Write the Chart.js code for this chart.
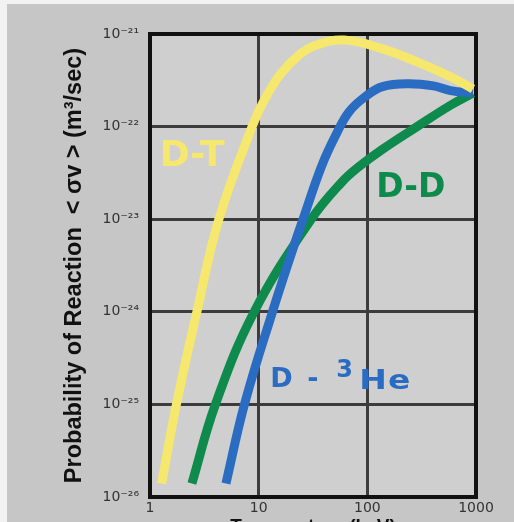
<!DOCTYPE html>
<html>
<head>
<meta charset="utf-8">
<script src="https://cdn.jsdelivr.net/npm/chart.js@4.4.1/dist/chart.umd.min.js"></script>
<style>
  html, body { margin: 0; padding: 0; background: #f2f2f2; }
  canvas { display: block; }
</style>
</head>
<body>
<canvas id="chart" width="514" height="522"></canvas>
<script>
// temperature (keV) and reaction rate <sigma v> (m3/s)
const dtTemp = [1.28, 1.75, 2.7, 4.3, 8.7, 11.3, 15.9, 23, 33, 61, 138, 287, 583, 937];
const dtRate = [1.4e-26, 1e-25, 1e-24, 1e-23, 1e-22, 1.95e-22, 3.7e-22, 5.8e-22, 7.5e-22, 8.6e-22, 6.9e-22, 5.0e-22, 3.45e-22, 2.55e-22];

const ddTemp = [2.43, 4.0, 9.1, 30.5, 58, 84, 138, 287, 583, 937];
const ddRate = [1.4e-26, 1e-25, 1e-24, 1e-23, 2.5e-23, 3.7e-23, 5.7e-23, 1.0e-22, 1.7e-22, 2.3e-22];

const dheTemp = [5.0, 7.4, 13.4, 21.5, 25.6, 37.8, 51, 68, 98, 138, 236, 405, 583, 937];
const dheRate = [1.4e-26, 1e-25, 1e-24, 5.5e-24, 1e-23, 3.7e-23, 8e-23, 1.45e-22, 2.15e-22, 2.7e-22, 2.9e-22, 2.75e-22, 2.45e-22, 2.3e-22];

const xTicks = [1, 10, 100, 1000];
const xTickLabels = ['1', '10', '100', '1000'];
const yTicks = [1e-26, 1e-25, 1e-24, 1e-23, 1e-22, 1e-21];
const yTickLabels = ['10⁻²⁶', '10⁻²⁵', '10⁻²⁴', '10⁻²³', '10⁻²²', '10⁻²¹'];

const toPoints = (xs, ys) => xs.map((x, i) => ({ x: x, y: ys[i] }));

const backdrop = {
  id: 'backdrop',
  beforeDraw(chart) {
    const { ctx, chartArea: a } = chart;
    ctx.save();
    ctx.fillStyle = '#c6c6c6';
    ctx.fillRect(7, 4, chart.width - 7, chart.height - 4);
    ctx.fillStyle = '#cfcfcf';
    ctx.fillRect(a.left, a.top, a.right - a.left, a.bottom - a.top);
    ctx.restore();
  },
  beforeDatasetsDraw(chart) {
    const { ctx, chartArea: a } = chart;
    ctx.save();
    ctx.strokeStyle = '#111111';
    ctx.lineWidth = 4;
    ctx.strokeRect(a.left, a.top, a.right - a.left, a.bottom - a.top);
    ctx.restore();
  },
  afterDatasetsDraw(chart) {
    const { ctx } = chart;
    const xs = chart.scales.x;
    const ys = chart.scales.y;
    ctx.save();
    ctx.textBaseline = 'alphabetic';
    ctx.textAlign = 'left';

    // D-T
    ctx.fillStyle = '#f6e86c';
    ctx.font = 'bold 36px "DejaVu Sans"';
    ctx.fillText('D-T', xs.getPixelForValue(1.23), ys.getPixelForValue(3.8e-23));

    // D-D
    ctx.fillStyle = '#0d8a4c';
    ctx.font = 'bold 33px "DejaVu Sans"';
    ctx.fillText('D-D', xs.getPixelForValue(121), ys.getPixelForValue(1.75e-23));

    // D - 3He
    const hx = xs.getPixelForValue(12.8);
    const hy = ys.getPixelForValue(1.55e-25);
    ctx.fillStyle = '#2a6cc2';
    ctx.font = 'bold 27px "DejaVu Sans"';
    ctx.fillText('D', hx, hy);
    ctx.fillText('-', hx + 37, hy);
    ctx.font = 'bold 24px "DejaVu Sans"';
    ctx.fillText('3', hx + 66, hy - 10);
    ctx.font = 'bold 27px "DejaVu Sans"';
    ctx.translate(hx + 89, hy + 2);
    ctx.scale(1.22, 1);
    ctx.letterSpacing = '1px';
    ctx.fillText('He', 0, 0);
    ctx.restore();
  }
};

const lineStyle = {
  pointRadius: 0,
  borderWidth: 9,
  fill: false,
  tension: 0.4
};

new Chart(document.getElementById('chart'), {
  type: 'line',
  data: {
    datasets: [
      Object.assign({ label: 'D-T', data: toPoints(dtTemp, dtRate), borderColor: '#f6e86c' }, lineStyle),
      Object.assign({ label: 'D-3He', data: toPoints(dheTemp, dheRate), borderColor: '#2a6cc2' }, lineStyle),
      Object.assign({ label: 'D-D', data: toPoints(ddTemp, ddRate), borderColor: '#0d8a4c' }, lineStyle)
    ]
  },
  options: {
    responsive: false,
    animation: false,
    layout: { padding: { left: 60, right: 38, top: 34, bottom: 0 } },
    plugins: {
      legend: { display: false },
      tooltip: { enabled: false }
    },
    scales: {
      x: {
        type: 'logarithmic',
        min: 1,
        max: 1000,
        afterBuildTicks: s => { s.ticks = xTicks.map(v => ({ value: v })); },
        afterFit: s => { s.height = 25; },
        border: { display: false },
        grid: { color: '#3c3c3c', lineWidth: 3, drawTicks: false },
        ticks: {
          padding: 3,
          color: '#333333',
          font: { family: 'DejaVu Sans', size: 14 },
          maxRotation: 0,
          callback: (v, i) => xTickLabels[i]
        },
        title: {
          display: true,
          text: 'Temperature (keV)',
          color: '#111111',
          font: { family: 'Liberation Sans', size: 19, weight: 'bold' },
          padding: { top: 0, bottom: -16 }
        }
      },
      y: {
        type: 'logarithmic',
        min: 1e-26,
        max: 1e-21,
        afterBuildTicks: s => { s.ticks = yTicks.map(v => ({ value: v })); },
        afterFit: s => { s.width = 90; },
        border: { display: false },
        grid: { color: '#3c3c3c', lineWidth: 3, drawTicks: false },
        ticks: {
          padding: 11,
          color: '#333333',
          font: { family: 'DejaVu Sans', size: 14 },
          callback: (v, i) => yTickLabels[i]
        },
        title: {
          display: true,
          text: 'Probability of Reaction  < σv > (m³/sec)',
          color: '#111111',
          font: { family: 'Liberation Sans', size: 23.5, weight: 'bold' },
          padding: { top: 0, bottom: 0 }
        }
      }
    }
  },
  plugins: [backdrop]
});
</script>
</body>
</html>
